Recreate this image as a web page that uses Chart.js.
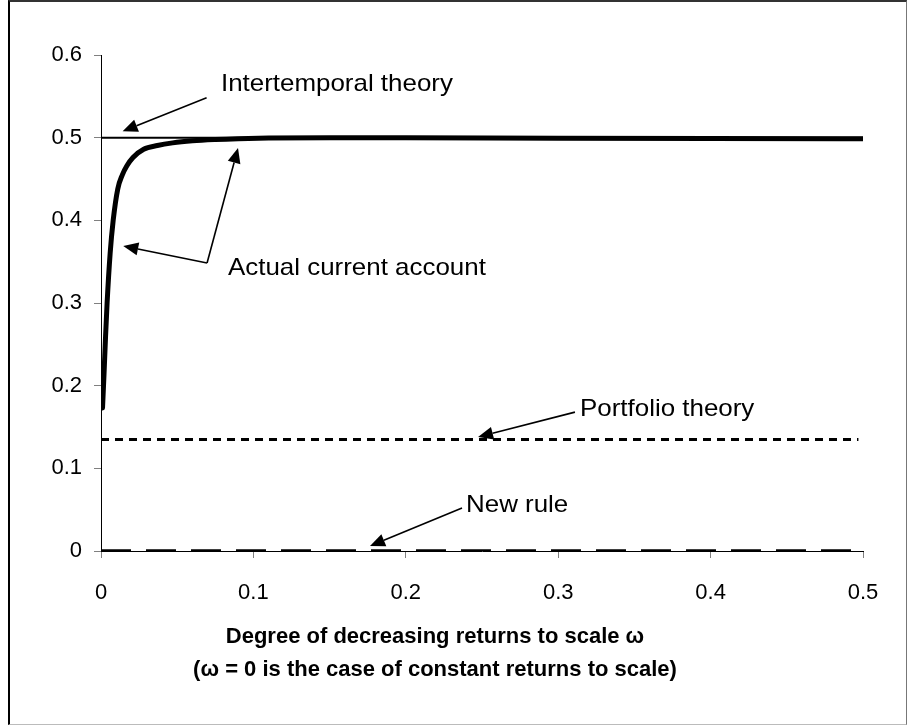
<!DOCTYPE html>
<html>
<head>
<meta charset="utf-8">
<script src="https://cdn.jsdelivr.net/npm/chart.js@4/dist/chart.umd.min.js"></script>
<style>
html,body{margin:0;padding:0;background:#fff;}
#wrap{position:absolute;left:0;top:0;width:910px;height:726px;overflow:hidden;}
#frame{position:absolute;left:8px;top:0;width:896px;height:722px;border-left:2px solid #000;border-top:2px solid #333;border-right:1px solid #777;border-bottom:1px solid #bbb;pointer-events:none;}
canvas{position:absolute;left:0;top:0;}
</style>
</head>
<body>
<div id="wrap"><canvas id="c" width="910" height="726"></canvas><div id="frame"></div></div>
<script>
// ---- data ----
const omegaActual = [0.001, 0.002, 0.003, 0.004, 0.006, 0.008, 0.011, 0.014, 0.017, 0.021, 0.028, 0.037, 0.047, 0.06, 0.075, 0.09, 0.11, 0.15, 0.2, 0.3, 0.4, 0.5];
const actualCurrentAccount = [0.173, 0.215, 0.26, 0.30, 0.36, 0.40, 0.438, 0.455, 0.466, 0.476, 0.486, 0.4905, 0.4937, 0.4962, 0.4978, 0.4988, 0.4995, 0.4999, 0.4998, 0.4993, 0.499, 0.4988];
const omegaFlat = [0, 0.5];
const intertemporalTheory = [0.5, 0.5];
const omegaPortfolio = [0, 0.497];
const portfolioTheory = [0.135, 0.135];
const omegaNewRule = [0, 0.5];
const newRule = [0, 0];
const xTickValues = [0, 0.1, 0.2, 0.3, 0.4, 0.5];
const yTickValues = [0, 0.1, 0.2, 0.3, 0.4, 0.5, 0.6];
const seriesNames = ["Actual current account", "Intertemporal theory", "Portfolio theory", "New rule"];
const xTitleLines = ["Degree of decreasing returns to scale \u03c9", "(\u03c9 = 0 is the case of constant returns to scale)"];

// ---- annotation placement (data coordinates) ----
const labelPos = {
  "Intertemporal theory": [0.0787, 0.565],
  "Actual current account": [0.0833, 0.3423],
  "Portfolio theory": [0.3143, 0.1718],
  "New rule": [0.2395, 0.0556]
};
const arrowPos = [
  [[0.0693, 0.5483], [0.0142, 0.5077]],
  [[0.0696, 0.3484], [0.0146, 0.369]],
  [[0.0696, 0.3484], [0.0899, 0.4875]],
  [[0.311, 0.168], [0.2474, 0.138]],
  [[0.2369, 0.052], [0.1765, 0.006]]
];

const pts = (xs, ys) => xs.map((x, i) => ({x: x, y: ys[i]}));
const FONT = "'Liberation Sans', Arial, sans-serif";

const annotPlugin = {
  id: 'annot',
  afterDatasetsDraw(chart) {
    const ctx = chart.ctx, xs = chart.scales.x, ys = chart.scales.y;
    ctx.save();
    ctx.fillStyle = '#000';
    ctx.strokeStyle = '#000';
    ctx.font = "24px " + FONT;
    ctx.textAlign = 'left';
    ctx.textBaseline = 'middle';
    Object.keys(labelPos).forEach(k => {
      const p = labelPos[k];
      ctx.save();
      ctx.translate(xs.getPixelForValue(p[0]), ys.getPixelForValue(p[1]));
      ctx.scale(1.08, 1);
      ctx.fillText(k, 0, 0);
      ctx.restore();
    });
    arrowPos.forEach(a => {
      const x0 = xs.getPixelForValue(a[0][0]), y0 = ys.getPixelForValue(a[0][1]);
      const x1 = xs.getPixelForValue(a[1][0]), y1 = ys.getPixelForValue(a[1][1]);
      const ang = Math.atan2(y1 - y0, x1 - x0);
      const L = 15, W = 6.5;
      const bx = x1 - L * Math.cos(ang), by = y1 - L * Math.sin(ang);
      ctx.lineWidth = 1.6;
      ctx.beginPath(); ctx.moveTo(x0, y0); ctx.lineTo(bx, by); ctx.stroke();
      ctx.beginPath();
      ctx.moveTo(x1, y1);
      ctx.lineTo(bx + W * Math.sin(ang), by - W * Math.cos(ang));
      ctx.lineTo(bx - W * Math.sin(ang), by + W * Math.cos(ang));
      ctx.closePath(); ctx.fill();
    });
    ctx.restore();
  }
};

new Chart(document.getElementById('c'), {
  type: 'scatter',
  data: {
    datasets: [
      {label: seriesNames[0], data: pts(omegaActual, actualCurrentAccount), showLine: true, borderColor: '#000', borderWidth: 5, pointRadius: 0, cubicInterpolationMode: 'monotone', borderCapStyle: 'round'},
      {label: seriesNames[1], data: pts(omegaFlat, intertemporalTheory), showLine: true, borderColor: '#000', borderWidth: 2, pointRadius: 0},
      {label: seriesNames[2], data: pts(omegaPortfolio, portfolioTheory), showLine: true, borderColor: '#000', borderWidth: 3, borderDash: [8, 6], pointRadius: 0},
      {label: seriesNames[3], data: pts(omegaNewRule, newRule), showLine: true, borderColor: '#000', borderWidth: 3.5, borderDash: [30, 15], pointRadius: 0}
    ]
  },
  options: {
    responsive: false,
    animation: false,
    devicePixelRatio: 1,
    layout: {padding: {left: 7, top: 55, right: 47, bottom: 0}},
    plugins: {
      legend: {display: false}, tooltip: {enabled: false},
      title: {display: true, position: 'bottom', text: xTitleLines, color: '#000', fullSize: true,
        font: {family: FONT, size: 22, weight: 'bold', lineHeight: '33px'}, padding: {top: 10, bottom: 40}}
    },
    scales: {
      x: {
        type: 'linear', min: 0, max: 0.5,
        afterBuildTicks: s => { s.ticks = xTickValues.map(v => ({value: v})); },
        afterFit: s => { s.height = 59; },
        ticks: {color: '#000', font: {family: FONT, size: 22}, padding: 22, maxRotation: 0,
          callback: v => String(+(+v).toFixed(1))},
        grid: {drawOnChartArea: false, drawTicks: true, tickLength: 7, tickColor: '#808080'},
        border: {color: '#000', width: 1}
      },
      y: {
        type: 'linear', min: 0, max: 0.6,
        afterBuildTicks: s => { s.ticks = yTickValues.map(v => ({value: v})); },
        afterFit: s => { s.width = 94; },
        ticks: {color: '#000', font: {family: FONT, size: 22}, padding: 12,
          callback: v => String(+(+v).toFixed(1))},
        grid: {drawOnChartArea: false, drawTicks: true, tickLength: 7, tickColor: '#808080'},
        border: {color: '#000', width: 1}
      }
    }
  },
  plugins: [annotPlugin]
});
</script>
</body>
</html>
